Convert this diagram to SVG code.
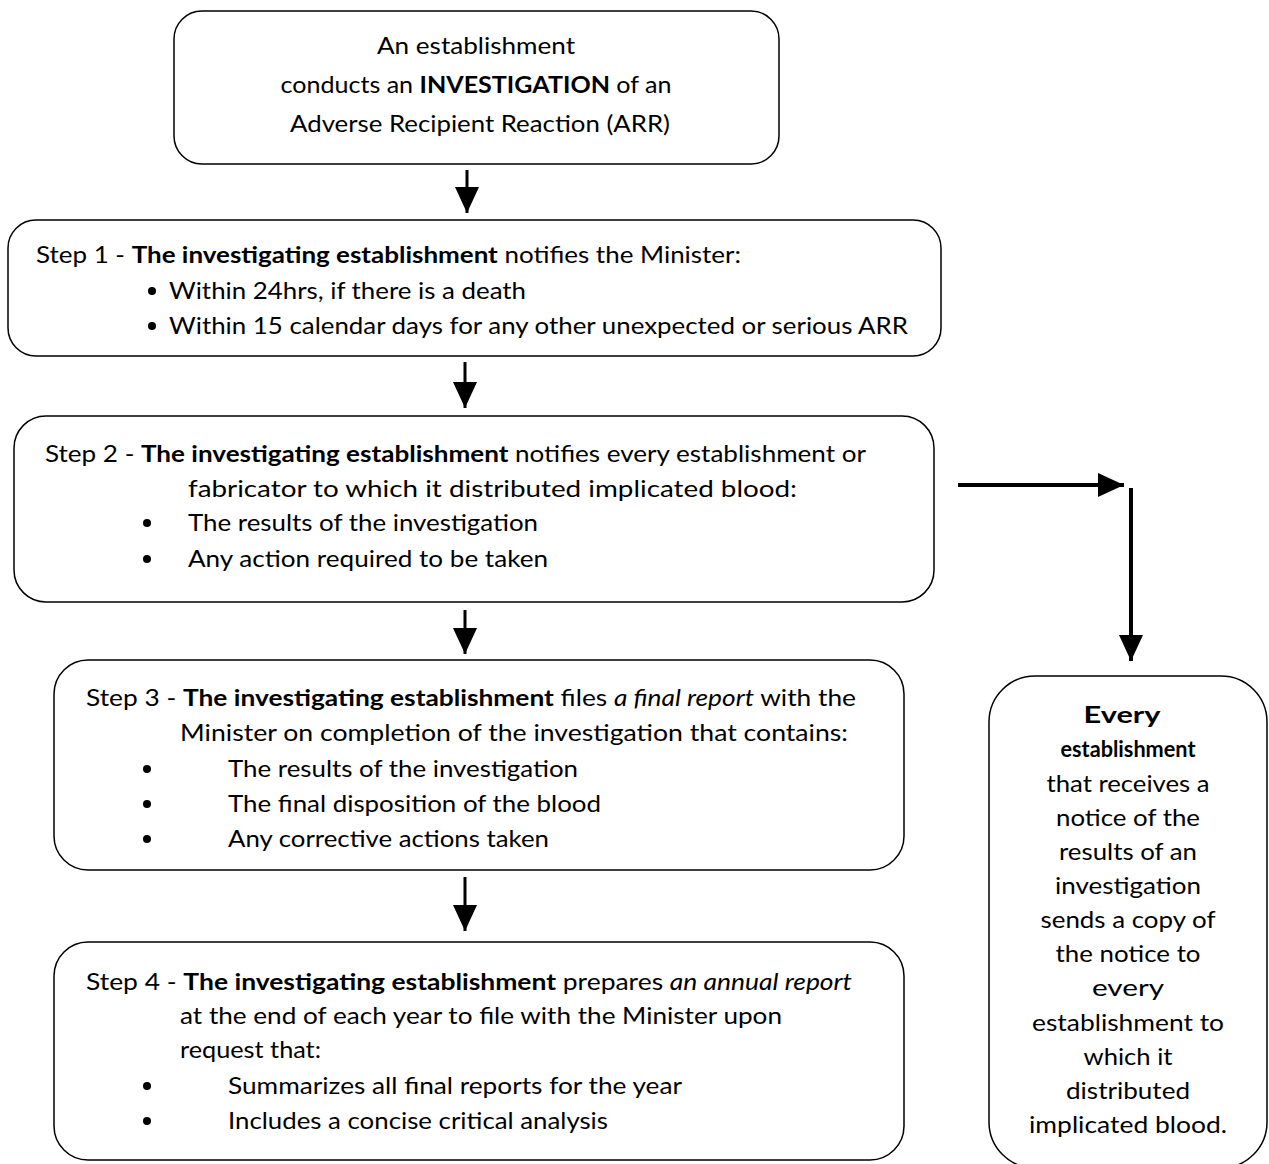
<svg xmlns="http://www.w3.org/2000/svg" width="1269" height="1164" viewBox="0 0 1269 1164">
<style>
.box{fill:#fff;stroke:#000;stroke-width:1.5}
text{font-family:Lato,"Liberation Sans",sans-serif;font-size:23px;fill:#000}
.c{text-anchor:middle}
.b{font-weight:bold}
.i{font-style:italic}
.conn line{stroke:#000;stroke-width:3}
.conn line.w{stroke-width:4}
</style>
<defs>
<marker id="ah" markerUnits="userSpaceOnUse" markerWidth="26" markerHeight="26" viewBox="0 0 26 24" refX="26" refY="12" orient="auto">
<path d="M0,0 L26,12 L0,24 Z" fill="#000"/>
</marker>
<clipPath id="clip3"><rect x="54" y="660" width="850" height="191"/></clipPath>
</defs>
<rect width="1269" height="1164" fill="#fff"/>
<g class="conn">
<line x1="467" y1="170" x2="467" y2="213" marker-end="url(#ah)"/>
<line x1="465" y1="362" x2="465" y2="408" marker-end="url(#ah)"/>
<line x1="465" y1="610" x2="465" y2="654" marker-end="url(#ah)"/>
<line x1="465" y1="877" x2="465" y2="931" marker-end="url(#ah)"/>
<line class="w" x1="958" y1="485" x2="1124" y2="485" marker-end="url(#ah)"/>
<line class="w" x1="1131" y1="488" x2="1131" y2="661" marker-end="url(#ah)"/>
</g>
<g id="start">
<rect class="box" x="174" y="11" width="605" height="153" rx="28"/>
<text class="c" x="476" y="54" textLength="198" lengthAdjust="spacingAndGlyphs">An establishment</text>
<text class="c" x="476" y="93" textLength="391" lengthAdjust="spacingAndGlyphs">conducts an <tspan class="b">INVESTIGATION</tspan> of an</text>
<text class="c" x="480" y="132" textLength="380" lengthAdjust="spacingAndGlyphs">Adverse Recipient Reaction (ARR)</text>
</g>
<g id="step1">
<rect class="box" x="8" y="220" width="933" height="136" rx="28"/>
<text x="36" y="263" textLength="705" lengthAdjust="spacingAndGlyphs">Step 1 - <tspan class="b">The investigating establishment</tspan> notifies the Minister:</text>
<circle cx="152" cy="291" r="4"/>
<text x="169" y="299" textLength="357" lengthAdjust="spacingAndGlyphs">Within 24hrs, if there is a death</text>
<circle cx="152" cy="326" r="4"/>
<text x="169" y="334" textLength="739" lengthAdjust="spacingAndGlyphs">Within 15 calendar days for any other unexpected or serious ARR</text>
</g>
<g id="step2">
<rect class="box" x="14" y="416" width="920" height="186" rx="32"/>
<text x="45" y="462" textLength="821" lengthAdjust="spacingAndGlyphs">Step 2 - <tspan class="b">The investigating establishment</tspan> notifies every establishment or</text>
<text x="188" y="497" textLength="609" lengthAdjust="spacingAndGlyphs">fabricator to which it distributed implicated blood:</text>
<circle cx="147" cy="523" r="4"/>
<text x="188" y="531" textLength="350" lengthAdjust="spacingAndGlyphs">The results of the investigation</text>
<circle cx="147" cy="559" r="4"/>
<text x="188" y="567" textLength="360" lengthAdjust="spacingAndGlyphs">Any action required to be taken</text>
</g>
<g id="step3">
<rect class="box" x="54" y="660" width="850" height="210" rx="34"/>
<text x="86" y="706" textLength="770" lengthAdjust="spacingAndGlyphs">Step 3 - <tspan class="b">The investigating establishment</tspan> files <tspan class="i">a final report</tspan> with the</text>
<text x="180" y="741" textLength="668" lengthAdjust="spacingAndGlyphs">Minister on completion of the investigation that contains:</text>
<circle cx="147" cy="769" r="4"/>
<text x="228" y="777" textLength="350" lengthAdjust="spacingAndGlyphs">The results of the investigation</text>
<circle cx="147" cy="804" r="4"/>
<text x="228" y="812" textLength="373" lengthAdjust="spacingAndGlyphs">The final disposition of the blood</text>
<circle cx="147" cy="839" r="4"/>
<text x="228" y="847" textLength="321" lengthAdjust="spacingAndGlyphs" clip-path="url(#clip3)">Any corrective actions taken</text>
</g>
<g id="step4">
<rect class="box" x="54" y="942" width="850" height="218" rx="34"/>
<text x="86" y="990" textLength="766" lengthAdjust="spacingAndGlyphs">Step 4 - <tspan class="b">The investigating establishment</tspan> prepares <tspan class="i">an annual report</tspan></text>
<text x="180" y="1024" textLength="602" lengthAdjust="spacingAndGlyphs">at the end of each year to file with the Minister upon</text>
<text x="180" y="1058" textLength="141" lengthAdjust="spacingAndGlyphs">request that:</text>
<circle cx="147" cy="1086" r="4"/>
<text x="228" y="1094" textLength="454" lengthAdjust="spacingAndGlyphs">Summarizes all final reports for the year</text>
<circle cx="147" cy="1121" r="4"/>
<text x="228" y="1129" textLength="380" lengthAdjust="spacingAndGlyphs">Includes a concise critical analysis</text>
</g>
<g id="every">
<rect class="box" x="989" y="676" width="278" height="492" rx="46"/>
<text class="c b" x="1122" y="723" textLength="77" lengthAdjust="spacingAndGlyphs">Every</text>
<text class="c b" x="1128" y="757" textLength="135" lengthAdjust="spacingAndGlyphs" style="font-size:22px">establishment</text>
<text class="c" x="1128" y="792" textLength="163" lengthAdjust="spacingAndGlyphs">that receives a</text>
<text class="c" x="1128" y="826" textLength="144" lengthAdjust="spacingAndGlyphs">notice of the</text>
<text class="c" x="1128" y="860" textLength="138" lengthAdjust="spacingAndGlyphs">results of an</text>
<text class="c" x="1128" y="894" textLength="146" lengthAdjust="spacingAndGlyphs">investigation</text>
<text class="c" x="1128" y="928" textLength="175" lengthAdjust="spacingAndGlyphs">sends a copy of</text>
<text class="c" x="1128" y="962" textLength="145" lengthAdjust="spacingAndGlyphs">the notice to</text>
<text class="c" x="1128" y="996" textLength="72" lengthAdjust="spacingAndGlyphs">every</text>
<text class="c" x="1128" y="1031" textLength="192" lengthAdjust="spacingAndGlyphs">establishment to</text>
<text class="c" x="1128" y="1065" textLength="89" lengthAdjust="spacingAndGlyphs">which it</text>
<text class="c" x="1128" y="1099" textLength="124" lengthAdjust="spacingAndGlyphs">distributed</text>
<text class="c" x="1128" y="1133" textLength="198" lengthAdjust="spacingAndGlyphs">implicated blood.</text>
</g>
</svg>
